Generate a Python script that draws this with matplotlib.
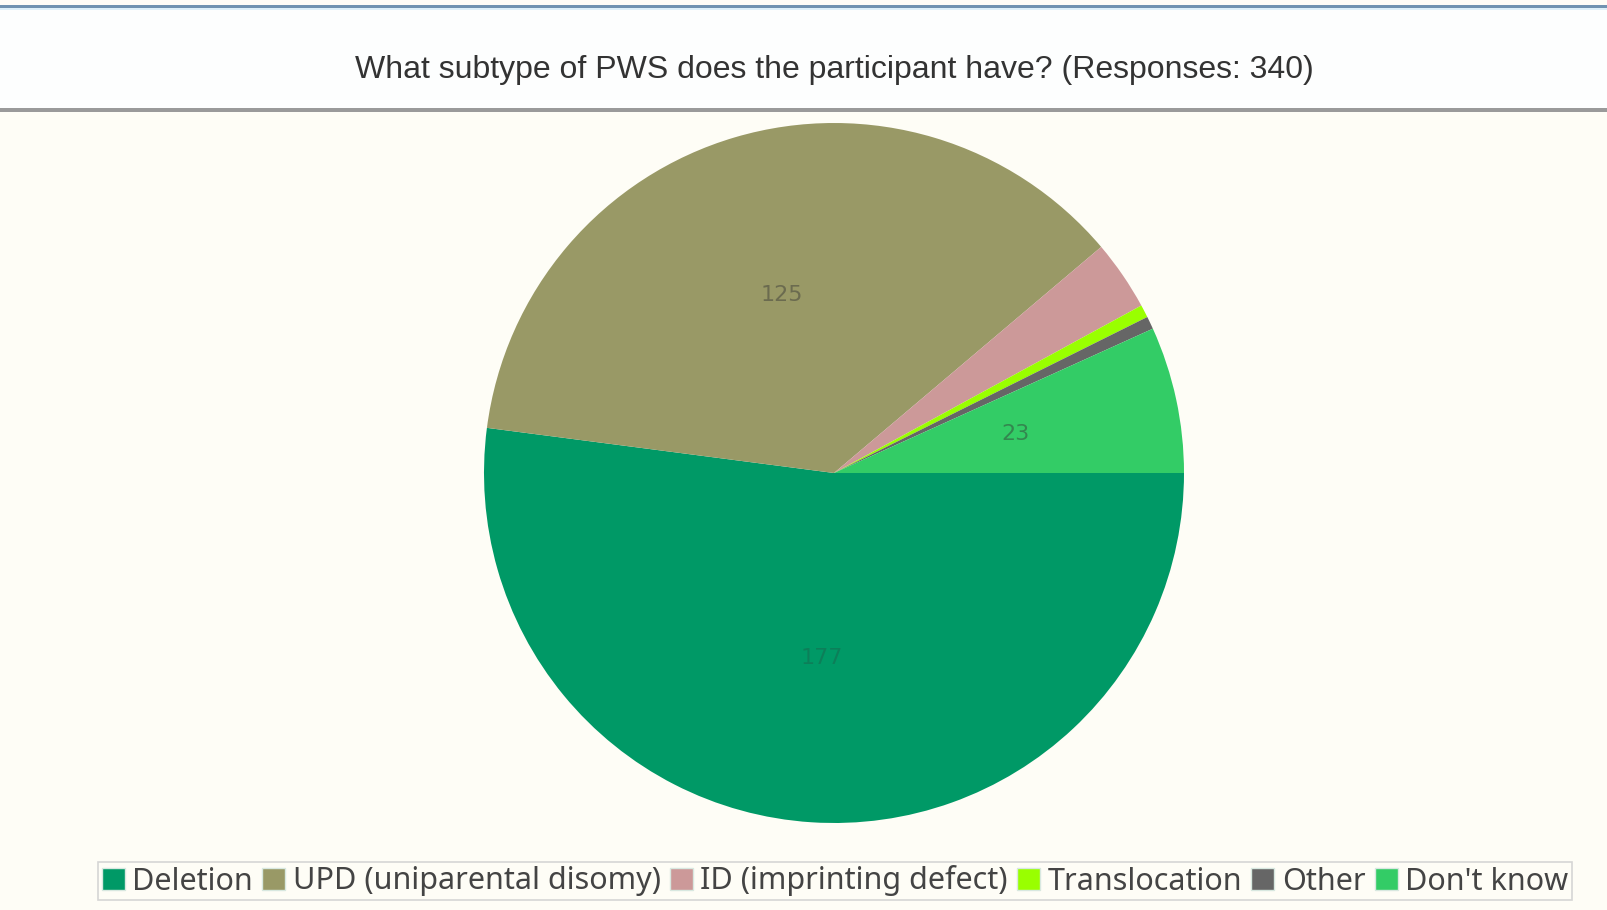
# Pie chart of PWS subtypes reported by survey participants.

import matplotlib.pyplot as plt
from matplotlib.patches import Rectangle
import numpy as np

# Survey answers (total 340)
subtypes = ["Deletion", "UPD (uniparental disomy)", "ID (imprinting defect)",
            "Translocation", "Other", "Don't know"]
counts = [177, 125, 11, 2, 2, 23]
colors = ["#009966", "#999966", "#CC9999", "#99FF00", "#666666", "#33CC66"]
title = "What subtype of PWS does the participant have? (Responses: 340)"

W, H = 1608, 910
fig = plt.figure(figsize=(W / 100, H / 100), dpi=100)
fig.patch.set_facecolor("#FEFDF6")

# header band with the blue rule on top and the grey rule below
fig.patches.append(Rectangle((0, 1 - 108 / H), 1, 98 / H, transform=fig.transFigure,
                             facecolor="#FDFEFE", edgecolor="none", zorder=0))
fig.patches.append(Rectangle((0, 1 - 8 / H), 1, 3 / H, transform=fig.transFigure,
                             facecolor="#7093B0", edgecolor="none", zorder=1))
fig.patches.append(Rectangle((0, 1 - 10 / H), 1, 2 / H, transform=fig.transFigure,
                             facecolor="#DDF0F8", edgecolor="none", zorder=1))
fig.patches.append(Rectangle((0, 1 - 112 / H), 1, 4 / H, transform=fig.transFigure,
                             facecolor="#9A9A9A", edgecolor="none", zorder=1))

fig.text(834 / W, 1 - 70 / H, title, ha="center", va="center",
         fontsize=23, color="#333333", family="Liberation Sans")

# pie: centre (834, 473), radius 350 px
cx, cy, r = 834, 473, 350
ax = fig.add_axes([(cx - r) / W, (H - cy - r) / H, 2 * r / W, 2 * r / H])
ax.set_facecolor("none")
wedges, _ = ax.pie(counts, colors=colors, startangle=0, counterclock=False,
                   radius=1, wedgeprops=dict(linewidth=0))
ax.set_xlim(-1, 1)
ax.set_ylim(-1, 1)
ax.set_aspect("equal")
ax.axis("off")

# value labels only on the big slices
for w, c in zip(wedges, counts):
    if c < 20:
        continue
    ang = np.deg2rad((w.theta1 + w.theta2) / 2)
    ax.text(0.53 * np.cos(ang), 0.53 * np.sin(ang), str(c), ha="center", va="center",
            fontsize=16, color="#333333", alpha=0.45 if c < 150 else 0.25,
            family="DejaVu Sans")

leg = fig.legend(wedges, subtypes, loc="center", bbox_to_anchor=(835 / W, 1 - 881 / H),
                 ncol=6, frameon=True, fancybox=False,
                 prop={"family": "Noto Sans", "size": 22},
                 handlelength=0.75, handleheight=0.75, handletextpad=0.25,
                 columnspacing=0.3, borderpad=0.12, borderaxespad=0)
leg.get_frame().set_edgecolor("#CCCCCC")
leg.get_frame().set_facecolor("#FEFDF6")
leg.get_frame().set_linewidth(1.2)
for t in leg.get_texts():
    t.set_color("#444444")
for p in leg.get_patches():
    p.set_edgecolor("#D8E8E0")
    p.set_linewidth(1)

fig.savefig("out.png", dpi=100, facecolor=fig.get_facecolor())
